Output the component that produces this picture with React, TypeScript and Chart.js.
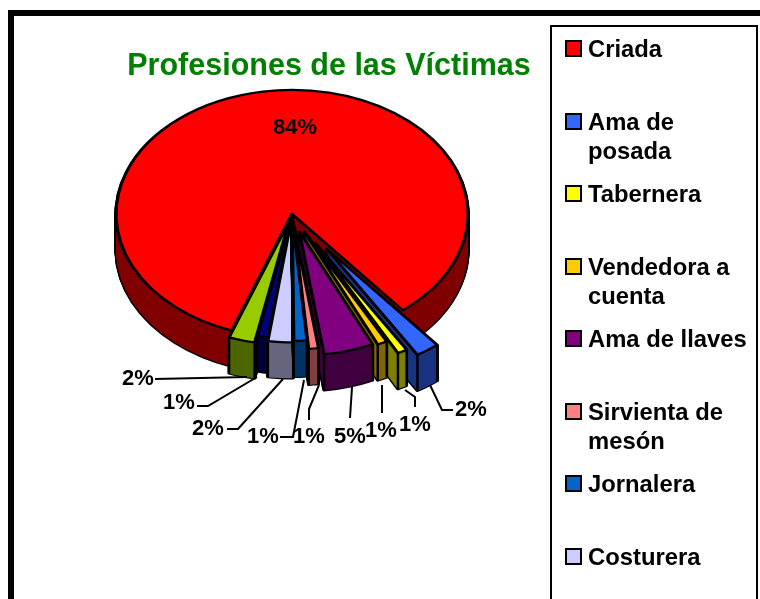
import React, { useEffect, useRef } from "react";
import { Chart, registerables } from "chart.js";

Chart.register(...registerables);

// ---- data ----
const legendNames = [
  ["Criada"],
  ["Ama de", "posada"],
  ["Tabernera"],
  ["Vendedora a", "cuenta"],
  ["Ama de llaves"],
  ["Sirvienta de", "mesón"],
  ["Jornalera"],
  ["Costurera"],
];
const shares = [83.6, 2.2, 0.9, 0.9, 4.6, 0.9, 1.2, 2.3, 1.0, 2.4];

// ---- styles ----
const sliceColors = ["#FF0000", "#3366FF", "#FFFF00", "#FFCC00", "#800080", "#FF8080", "#0066CC", "#CCCCFF", "#000080", "#99CC00"];
const wallColors = ["#800000", "#1A3380", "#808000", "#806600", "#400040", "#804040", "#003366", "#666680", "#000040", "#4D6600"];
const explodeBy = [0, 60, 48, 28, 26, 16, 4, 6, 0, 10];

// ---- layout ----
const FONT = '"Liberation Sans", Arial, sans-serif';
const PIE_X = 292;
const PIE_Y = 214;
const RADIUS = 176;
const TILT = 0.705;
const DEPTH = 36;
const percentAnchors = [
  [295, 128], [471, 410], [415, 425], [381, 431], [350, 437],
  [309, 437], [263, 437], [208, 429], [179, 403], [138, 379],
];
const leaderPaths: number[][][] = [
  [],
  [[453, 410], [442, 410], [430, 385]],
  [[415, 407], [415, 397], [405, 390]],
  [[382, 413], [382, 385]],
  [[350, 418], [352, 387]],
  [[309, 420], [309, 409], [319, 385]],
  [[280, 437], [293, 437], [304, 380]],
  [[227, 429], [238, 429], [283, 379]],
  [[197, 406], [208, 406], [257, 377]],
  [[155, 379], [247, 377]],
];

const pie3d = {
  id: "pie3d",
  beforeDatasetsDraw(chart: any) {
    const ctx = chart.ctx;
    const arcs = chart.getDatasetMeta(0).data;
    const order = arcs
      .map((_: any, i: number) => i)
      .sort((p: number, q: number) => {
        if (p === 0) return -1;
        if (q === 0) return 1;
        const dist = (i: number) => {
          const m = ((arcs[i].startAngle + arcs[i].endAngle) / 2) % (Math.PI * 2);
          return Math.abs(m - Math.PI / 2);
        };
        return dist(q) - dist(p);
      });

    const paint = (i: number, drop: number, fill: string, border: string, width: number) => {
      const arc = arcs[i];
      const m = (arc.startAngle + arc.endAngle) / 2;
      const original = arc.options;
      arc.options = Object.assign(Object.create(original), {
        backgroundColor: fill,
        borderColor: border,
        borderWidth: width,
        borderJoinStyle: "round",
        offset: 0,
      });
      ctx.save();
      ctx.translate(PIE_X, PIE_Y + drop);
      ctx.scale(1, TILT);
      ctx.translate(-arc.x, -arc.y);
      ctx.translate(Math.cos(m) * explodeBy[i], Math.sin(m) * explodeBy[i]);
      arc.draw(ctx);
      ctx.restore();
      arc.options = original;
    };

    order.forEach((i: number) => {
      for (let d = DEPTH; d >= 1; d--) paint(i, d, "#000", "#000", 3.2);
      for (let d = DEPTH; d >= 1; d--) paint(i, d, wallColors[i], wallColors[i], 0);
      if (i !== 0) {
        const arc = arcs[i];
        const m = (arc.startAngle + arc.endAngle) / 2;
        ctx.save();
        ctx.strokeStyle = "#000";
        ctx.lineWidth = 2.5;
        [arc.startAngle, arc.endAngle].forEach((t: number) => {
          const x = PIE_X + Math.cos(m) * explodeBy[i] + Math.cos(t) * RADIUS;
          const y = PIE_Y + TILT * (Math.sin(m) * explodeBy[i] + Math.sin(t) * RADIUS);
          ctx.beginPath();
          ctx.moveTo(x, y);
          ctx.lineTo(x, y + DEPTH);
          ctx.stroke();
        });
        ctx.restore();
      }
      paint(i, 0, sliceColors[i], "#000", 3.2);
    });

    const total = shares.reduce((s, v) => s + v, 0);
    ctx.save();
    ctx.strokeStyle = "#000";
    ctx.lineWidth = 2;
    leaderPaths.forEach((path) => {
      if (!path.length) return;
      ctx.beginPath();
      path.forEach(([x, y], n) => (n ? ctx.lineTo(x, y) : ctx.moveTo(x, y)));
      ctx.stroke();
    });
    ctx.fillStyle = "#000";
    ctx.font = `bold 22px ${FONT}`;
    ctx.textAlign = "center";
    ctx.textBaseline = "middle";
    shares.forEach((v, i) => {
      ctx.fillText(`${Math.round((v / total) * 100)}%`, percentAnchors[i][0], percentAnchors[i][1]);
    });
    ctx.restore();
    return false;
  },
};

export default function App() {
  const ref = useRef<HTMLCanvasElement | null>(null);

  useEffect(() => {
    const chart = new Chart(ref.current as HTMLCanvasElement, {
      type: "pie",
      data: {
        labels: legendNames.map((n) => n.join(" ")),
        datasets: [{ data: shares, backgroundColor: sliceColors, borderColor: "#000", borderWidth: 3.2 }],
      },
      options: {
        responsive: false,
        animation: false,
        rotation: 200,
        radius: RADIUS,
        layout: { padding: { left: 108, right: 210, top: 48, bottom: 0 } },
        plugins: {
          legend: { display: false },
          tooltip: { enabled: false },
          title: {
            display: true,
            text: "Profesiones de las Víctimas",
            color: "#008000",
            fullSize: false,
            padding: 0,
            font: { family: FONT, size: 30.5, weight: "bold" },
          },
        },
      } as any,
      plugins: [pie3d as any],
    });
    return () => chart.destroy();
  }, []);

  return (
    <div style={{ position: "absolute", left: 0, top: 0, width: 760, height: 599, overflow: "hidden", background: "#fff", fontFamily: FONT }}>
      <div style={{ position: "absolute", left: 8, top: 10, width: 752, height: 6, background: "#000" }} />
      <div style={{ position: "absolute", left: 8, top: 10, width: 6, height: 589, background: "#000" }} />
      <canvas ref={ref} width={760} height={599} style={{ position: "absolute", left: 0, top: 0, width: 760, height: 599 }} />
      <div style={{ position: "absolute", left: 550, top: 25, width: 204, height: 640, border: "2px solid #000" }} />
      {legendNames.map((lines, i) => (
        <div key={i} style={{ position: "absolute", left: 0, top: 0 }}>
          <div
            style={{
              position: "absolute",
              left: 565,
              top: 40 + 72.5 * i,
              width: 13,
              height: 13,
              border: "2px solid #000",
              background: sliceColors[i],
            }}
          />
          {lines.map((t, n) => (
            <div
              key={n}
              style={{
                position: "absolute",
                left: 588,
                top: 34 + 72.5 * i + 29.5 * n,
                height: 30,
                lineHeight: "30px",
                fontSize: 23.8,
                fontWeight: 700,
                color: "#000",
                whiteSpace: "nowrap",
              }}
            >
              {t}
            </div>
          ))}
        </div>
      ))}
    </div>
  );
}
